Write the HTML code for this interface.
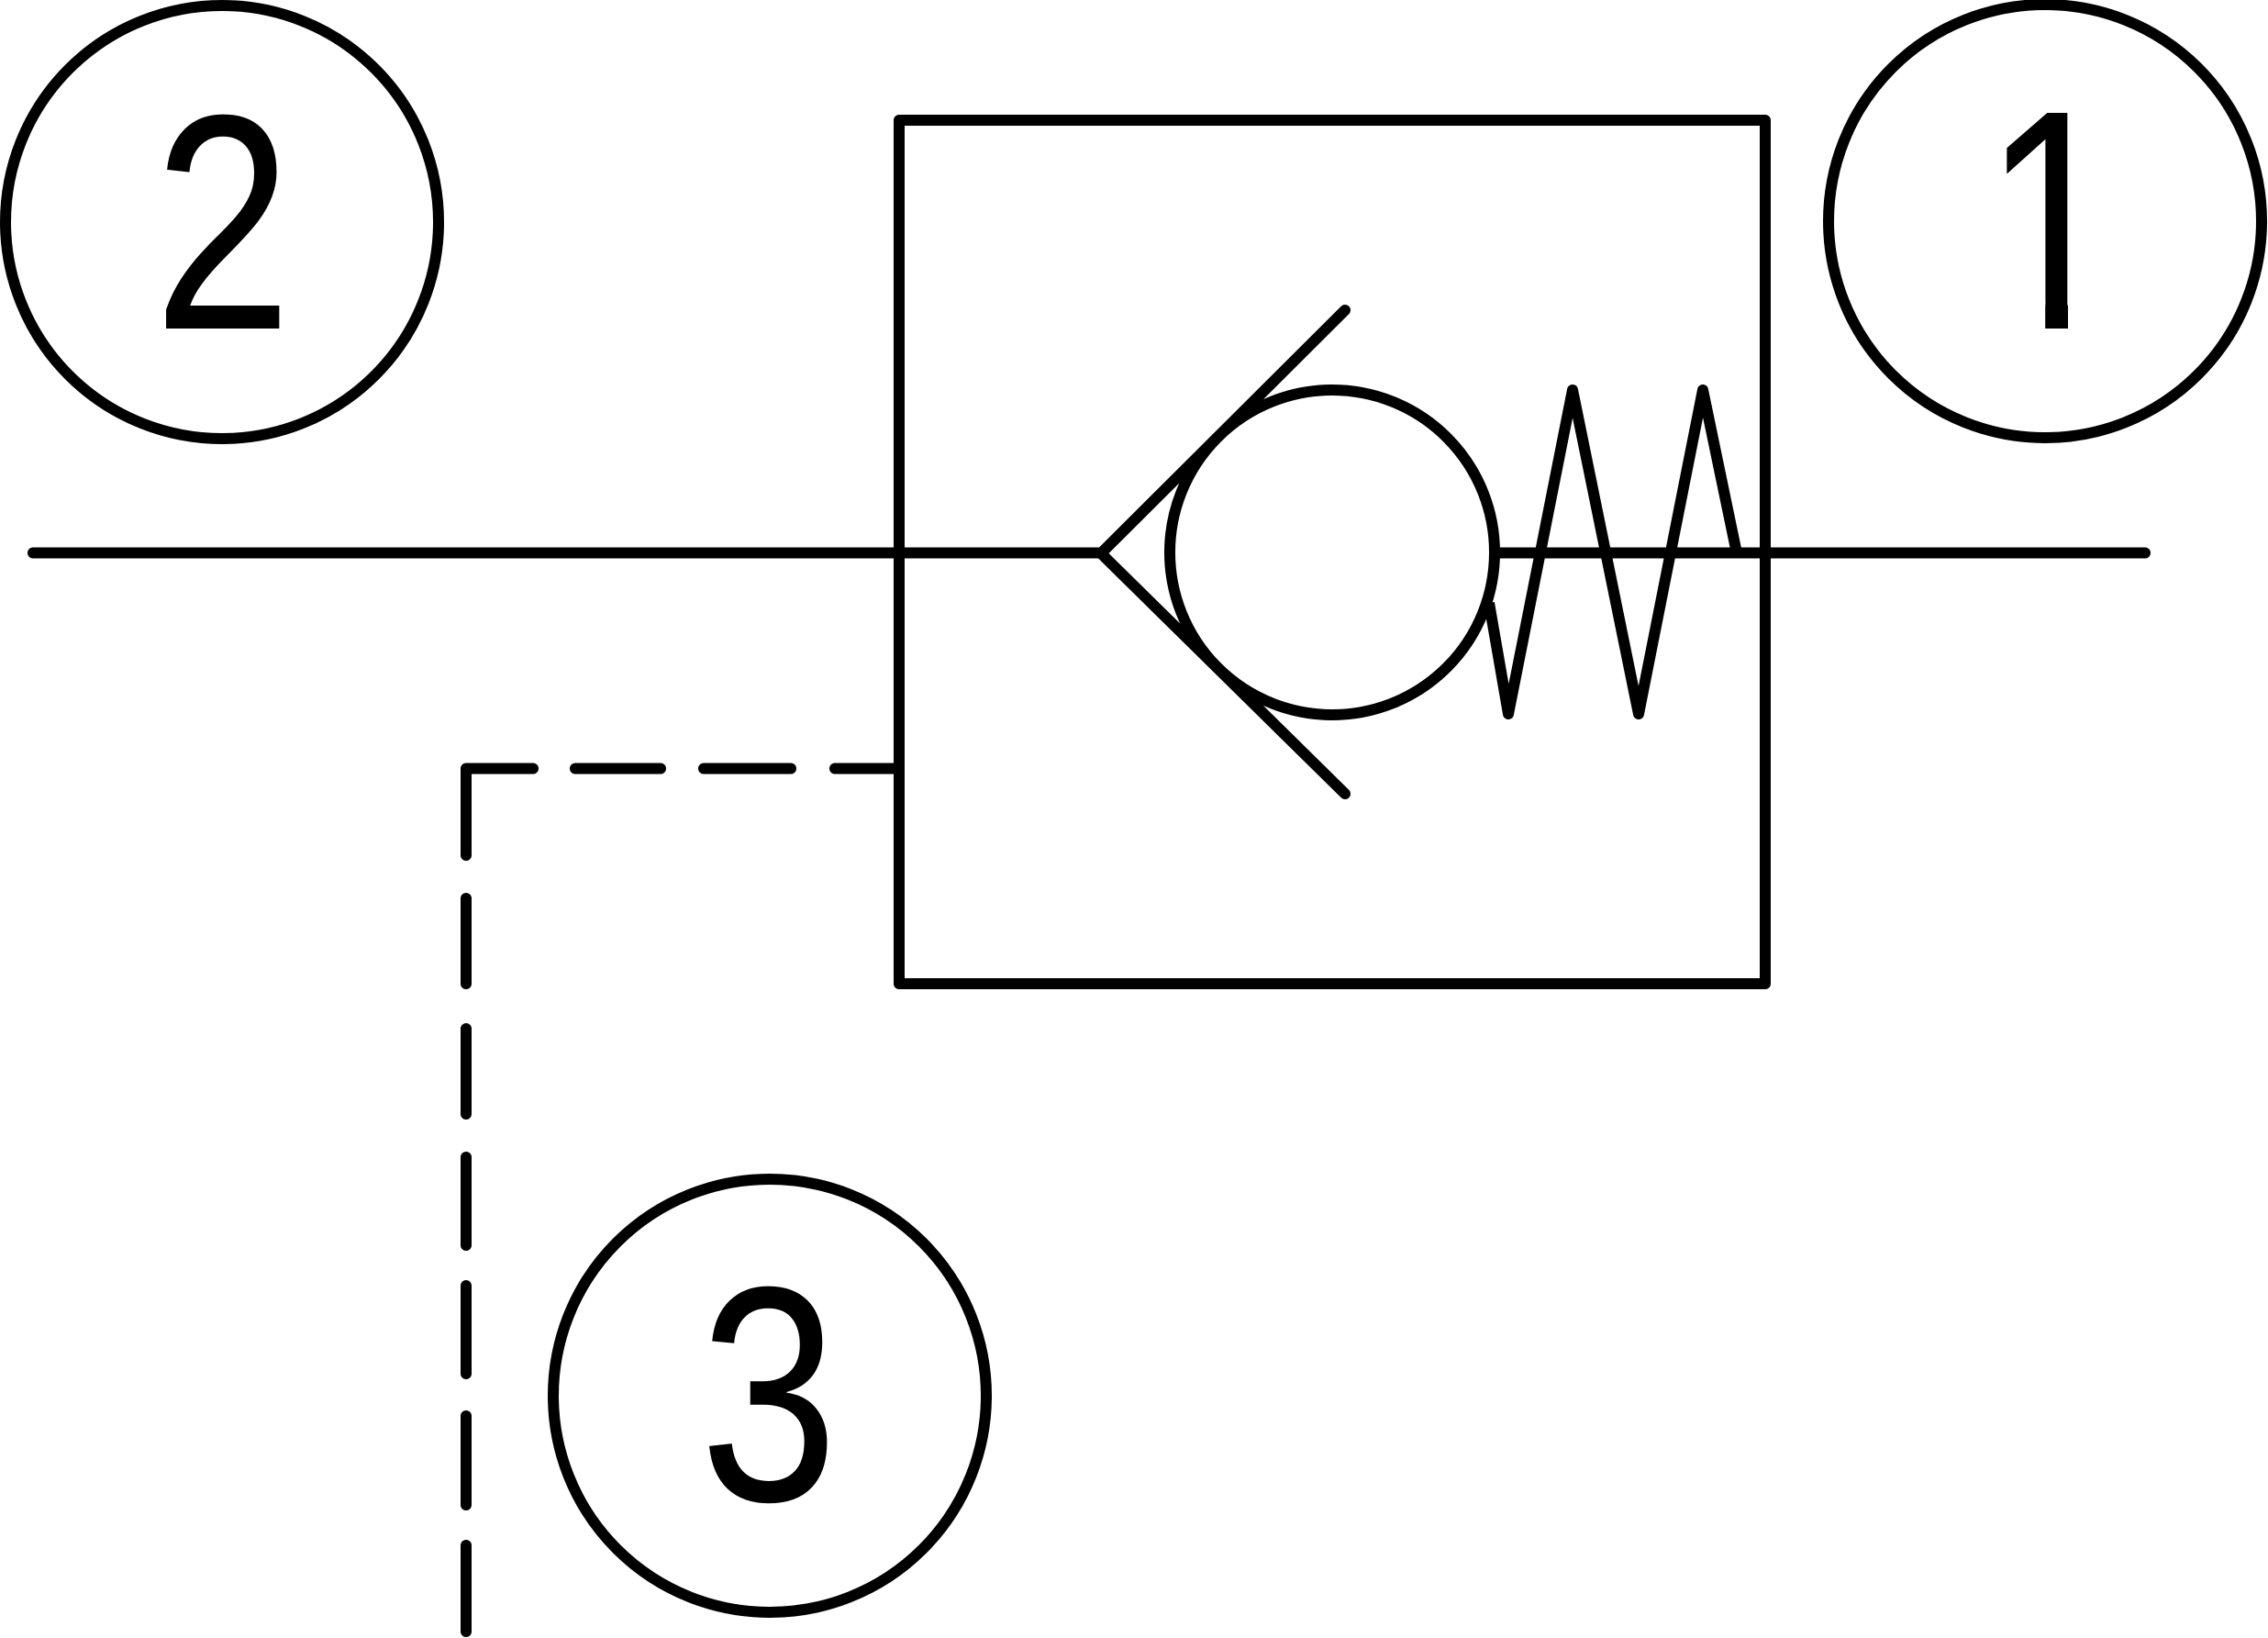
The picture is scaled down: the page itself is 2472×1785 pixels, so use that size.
<!DOCTYPE html>
<html>
<head>
<meta charset="utf-8">
<style>
  html, body { margin: 0; padding: 0; background: #ffffff; }
  svg { display: block; }
  .lbl { font-family: "Liberation Sans", Arial, Helvetica, sans-serif; font-size: 330px; font-weight: normal; fill: #000; }
</style>
</head>
<body>
<svg width="2472" height="1785" viewBox="0 0 2472 1785" xmlns="http://www.w3.org/2000/svg">
  <rect x="0" y="0" width="2472" height="1785" fill="#ffffff"/>

  <g text-anchor="middle">
    <text class="lbl" transform="translate(242.7,358) scale(0.82,1.013)">2</text>
    <text class="lbl" transform="translate(2236.6,358) scale(0.82,1.035)">1</text>
    <text class="lbl" transform="translate(838,1635) scale(0.82,1.013)">3</text>
  </g>
  <!-- hide the foot serif of the "1" so it matches the reference glyph -->
  <rect x="2168" y="326" width="61.2" height="38" fill="#ffffff"/>
  <rect x="2254" y="326" width="56" height="38" fill="#ffffff"/>

  <g fill="none" stroke="#000" stroke-width="12" stroke-linecap="round" stroke-linejoin="round">
    <!-- label circles -->
    <circle cx="242" cy="242" r="236"/>
    <circle cx="2229" cy="241" r="236"/>
    <circle cx="839" cy="1521" r="236"/>

    <!-- valve box -->
    <rect x="980" y="131" width="944" height="941"/>

    <!-- main flow line -->
    <line x1="36" y1="602.5" x2="1200" y2="602.5"/>
    <line x1="1629" y1="602.5" x2="2338" y2="602.5" stroke-linecap="butt"/>
    <line x1="2300" y1="602.5" x2="2338" y2="602.5"/>

    <!-- chevron seat -->
    <polyline points="1466,338 1200,603 1466,865"/>

    <!-- ball -->
    <circle cx="1452" cy="602" r="177"/>

    <!-- spring -->
    <polyline points="1623,657 1644,778 1714,425 1786,778 1856,425 1893,603" stroke-linecap="butt"/>

    <!-- pilot dashed line -->
    <line x1="910" y1="837.5" x2="980" y2="837.5"/>
    <line x1="767" y1="837.5" x2="862" y2="837.5"/>
    <line x1="627" y1="837.5" x2="720" y2="837.5"/>
    <polyline points="581,837.5 508,837.5 508,932"/>
    <line x1="508" y1="979" x2="508" y2="1072"/>
    <line x1="508" y1="1121" x2="508" y2="1214"/>
    <line x1="508" y1="1261" x2="508" y2="1357"/>
    <line x1="508" y1="1401" x2="508" y2="1497"/>
    <line x1="508" y1="1543" x2="508" y2="1640"/>
    <line x1="508" y1="1684" x2="508" y2="1778"/>
  </g>
</svg>
</body>
</html>
